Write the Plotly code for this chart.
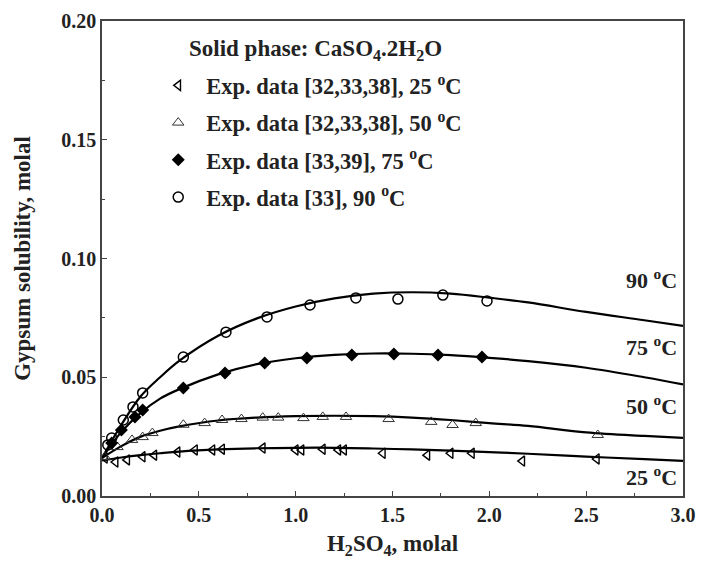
import plotly.graph_objects as go

# ---- experimental data ----
x25 = [0.015, 0.07, 0.13, 0.21, 0.27, 0.39, 0.48, 0.57, 0.62, 0.83, 1.00, 1.03, 1.14, 1.22, 1.25, 1.45, 1.68, 1.80, 1.91, 2.17, 2.555]
y25 = [0.0160, 0.0143, 0.0152, 0.0165, 0.0172, 0.0185, 0.0194, 0.0194, 0.0197, 0.0202, 0.0194, 0.0194, 0.0197, 0.0194, 0.0194, 0.0180, 0.0172, 0.0180, 0.0180, 0.0147, 0.0156]

x50 = [0.015, 0.08, 0.155, 0.21, 0.26, 0.42, 0.53, 0.62, 0.72, 0.83, 0.91, 1.04, 1.14, 1.26, 1.48, 1.70, 1.81, 1.93, 2.56]
y50 = [0.0164, 0.0206, 0.0236, 0.0248, 0.0265, 0.0300, 0.0307, 0.0320, 0.0324, 0.0330, 0.0330, 0.0328, 0.0333, 0.0333, 0.0324, 0.0312, 0.0299, 0.0307, 0.0257]

x75 = [0.05, 0.10, 0.17, 0.21, 0.42, 0.635, 0.84, 1.058, 1.29, 1.507, 1.735, 1.962]
y75 = [0.0223, 0.0278, 0.0333, 0.0362, 0.0455, 0.0518, 0.0560, 0.0581, 0.0594, 0.0598, 0.0594, 0.0585]

x90 = [0.03, 0.05, 0.11, 0.16, 0.21, 0.42, 0.64, 0.852, 1.074, 1.311, 1.528, 1.760, 1.988]
y90 = [0.0215, 0.0244, 0.0320, 0.0375, 0.0434, 0.0585, 0.0690, 0.0754, 0.0804, 0.0834, 0.0829, 0.0846, 0.0821]

# ---- model curves ----
cx = [0.0, 0.1, 0.2, 0.3, 0.4, 0.6, 0.8, 1.0, 1.2, 1.4, 1.6, 1.8, 2.0, 2.2, 2.5, 2.8, 3.0]
c90 = [0.016, 0.030, 0.042, 0.050, 0.057, 0.0675, 0.0748, 0.0798, 0.0832, 0.0852, 0.0858, 0.0852, 0.0835, 0.0815, 0.0775, 0.0740, 0.0716]
c75 = [0.016, 0.027, 0.035, 0.041, 0.045, 0.0512, 0.0555, 0.0580, 0.0594, 0.0600, 0.0599, 0.0593, 0.0582, 0.0568, 0.0540, 0.0500, 0.0470]
c50 = [0.016, 0.021, 0.025, 0.0275, 0.0293, 0.0318, 0.0330, 0.0336, 0.0338, 0.0336, 0.0330, 0.0320, 0.0307, 0.0295, 0.0268, 0.0253, 0.0245]
c25 = [0.015, 0.0162, 0.0172, 0.0180, 0.0187, 0.0196, 0.0201, 0.0203, 0.0203, 0.0200, 0.0196, 0.0191, 0.0185, 0.0178, 0.0166, 0.0155, 0.0148]

curve_labels = ["90 <sup>o</sup>C", "75 <sup>o</sup>C", "50 <sup>o</sup>C", "25 <sup>o</sup>C"]
label_y = [0.0915, 0.0630, 0.0385, 0.0085]

legend_title = "Solid phase: CaSO<sub>4</sub>.2H<sub>2</sub>O"

FONT = "Liberation Serif"
INK = "#222"
fig = go.Figure()

for cy in [c90, c75, c50, c25]:
    fig.add_trace(go.Scatter(x=cx, y=cy, mode="lines", line=dict(color="black", width=2.2, shape="spline"),
                             showlegend=False, hoverinfo="skip"))

fig.add_trace(go.Scatter(x=x25, y=y25, mode="markers", name="Exp. data [32,33,38], 25 <sup>o</sup>C",
                         legendgroup="a",
                         marker=dict(symbol="triangle-left-open", size=9, color="black", line=dict(width=1.4))))
fig.add_trace(go.Scatter(x=x50, y=y50, mode="markers", name="Exp. data [32,33,38], 50 <sup>o</sup>C",
                         legendgroup="b",
                         marker=dict(symbol="triangle-up-open", size=10, color="#333", line=dict(width=1))))
fig.add_trace(go.Scatter(x=x75, y=y75, mode="markers", name="Exp. data [33,39], 75 <sup>o</sup>C",
                         legendgroup="c",
                         marker=dict(symbol="diamond", size=10, color="black")))
fig.add_trace(go.Scatter(x=x90, y=y90, mode="markers", name="Exp. data [33], 90 <sup>o</sup>C",
                         legendgroup="d",
                         marker=dict(symbol="circle-open", size=10, color="black", line=dict(width=1.5))))

for t, ly in zip(curve_labels, label_y):
    fig.add_annotation(x=2.98, y=ly, text=t, showarrow=False, xanchor="right", yanchor="middle",
                       font=dict(family=FONT, size=22, color=INK, weight="bold"))

fig.add_annotation(xref="paper", yref="paper", x=0.146, y=0.939, text=legend_title, showarrow=False,
                   xanchor="left", yanchor="middle",
                   font=dict(family=FONT, size=23, color=INK, weight="bold"))

axis_common = dict(showline=True, linecolor="#444", linewidth=1.5, mirror=True, ticks="inside",
                   ticklen=5, tickcolor="#444", showgrid=False, zeroline=False,
                   tickfont=dict(family=FONT, size=20, color=INK, weight="bold"))

fig.update_xaxes(range=[0, 3.0], dtick=0.5, tickformat=".1f", automargin=False,
                 minor=dict(dtick=0.25, ticks="inside", ticklen=3, tickcolor="#444"),
                 title=dict(text="H<sub>2</sub>SO<sub>4</sub>, molal",
                            font=dict(family=FONT, size=23, color=INK, weight="bold"), standoff=10),
                 **axis_common)
fig.update_yaxes(range=[0, 0.2], dtick=0.05, tickformat=".2f", automargin=False,
                 minor=dict(dtick=0.025, ticks="inside", ticklen=3, tickcolor="#444"),
                 title=dict(text="Gypsum solubility, molal",
                            font=dict(family=FONT, size=23, color=INK, weight="bold"), standoff=24),
                 **axis_common)

fig.update_layout(
    width=701, height=568,
    margin=dict(l=102, r=18, t=21, b=72),
    plot_bgcolor="white", paper_bgcolor="white",
    font=dict(family=FONT, color=INK),
    legend=dict(x=0.083, y=0.909, xanchor="left", yanchor="top", bgcolor="rgba(0,0,0,0)",
                font=dict(family=FONT, size=22.5, color=INK, weight="bold"), tracegroupgap=5,
                itemwidth=46),
)

fig.write_html("out.html")
